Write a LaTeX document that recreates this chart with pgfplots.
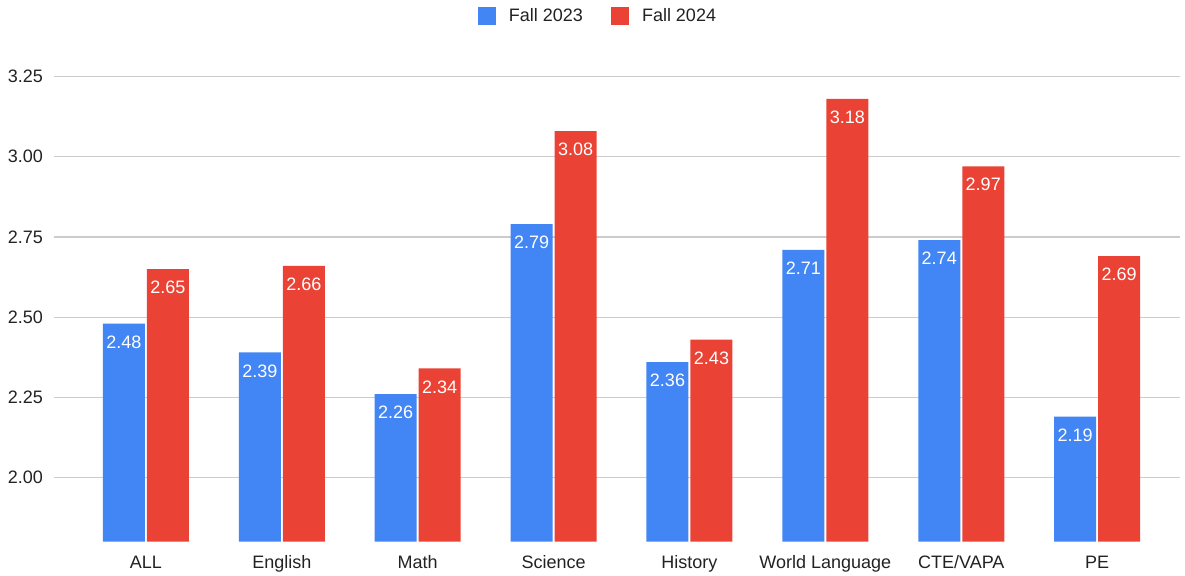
\documentclass[border=0pt]{standalone}
\usepackage{pgfplots}
\pgfplotsset{compat=1.18}
\usepackage{fontspec}
\setmainfont{Liberation Sans}
\definecolor{gblue}{HTML}{4285F4}
\definecolor{gred}{HTML}{EA4335}
\definecolor{gtext}{HTML}{222222}
\definecolor{ggrid}{HTML}{CCCCCC}
\begin{document}
\begin{tikzpicture}
\path[use as bounding box] (0,0) rectangle (592.5pt,287.5pt);
\begin{axis}[
  at={(27pt,16.65pt)}, anchor=south west,
  scale only axis,
  width=563pt, height=251.85pt,
  ybar, bar width=21pt,
  xmin=-0.677, xmax=7.61,
  ymin=1.8, ymax=3.37,
  ytick={2,2.25,2.5,2.75,3,3.25},
  yticklabel style={/pgf/number format/fixed, /pgf/number format/fixed zerofill, /pgf/number format/precision=2, /pgf/number format/assume math mode=true, text=gtext, font=\fontsize{9}{11}\selectfont, xshift=-2pt},
  xtick={0,...,7},
  xticklabels={ALL,English,Math,Science,History,World Language,CTE/VAPA,PE},
  xticklabel style={text=gtext, font=\fontsize{9}{11}\selectfont, yshift=-3.5pt},
  major tick length=0pt,
  axis lines*=left,
  axis line style={draw=none},
  ymajorgrids, grid style={ggrid, line width=0.6pt},
  nodes near coords,
  every node near coord/.append style={/pgf/number format/fixed, /pgf/number format/fixed zerofill, /pgf/number format/precision=2, /pgf/number format/assume math mode=true, anchor=north, text=white, font=\fontsize{9}{11}\selectfont, yshift=-2.5pt},
  legend style={at={(axis description cs:0.5,1)}, anchor=center, xshift=-9pt, yshift=11pt, draw=none, legend columns=2, font=\fontsize{9}{11}\selectfont, text=gtext, /tikz/every even column/.append style={column sep=12pt}},
  legend image code/.code={\fill[#1,draw=none] (0pt,-4.5pt) rectangle (9pt,4.5pt); \path (13.5pt,0pt);},
]
\addplot[fill=gblue, draw=none, bar shift=-11pt] coordinates {(0,2.48) (1,2.39) (2,2.26) (3,2.79) (4,2.36) (5,2.71) (6,2.74) (7,2.19)};
\addplot[fill=gred, draw=none, bar shift=11pt] coordinates {(0,2.65) (1,2.66) (2,2.34) (3,3.08) (4,2.43) (5,3.18) (6,2.97) (7,2.69)};
\legend{Fall 2023, Fall 2024}
\end{axis}
\end{tikzpicture}
\end{document}
